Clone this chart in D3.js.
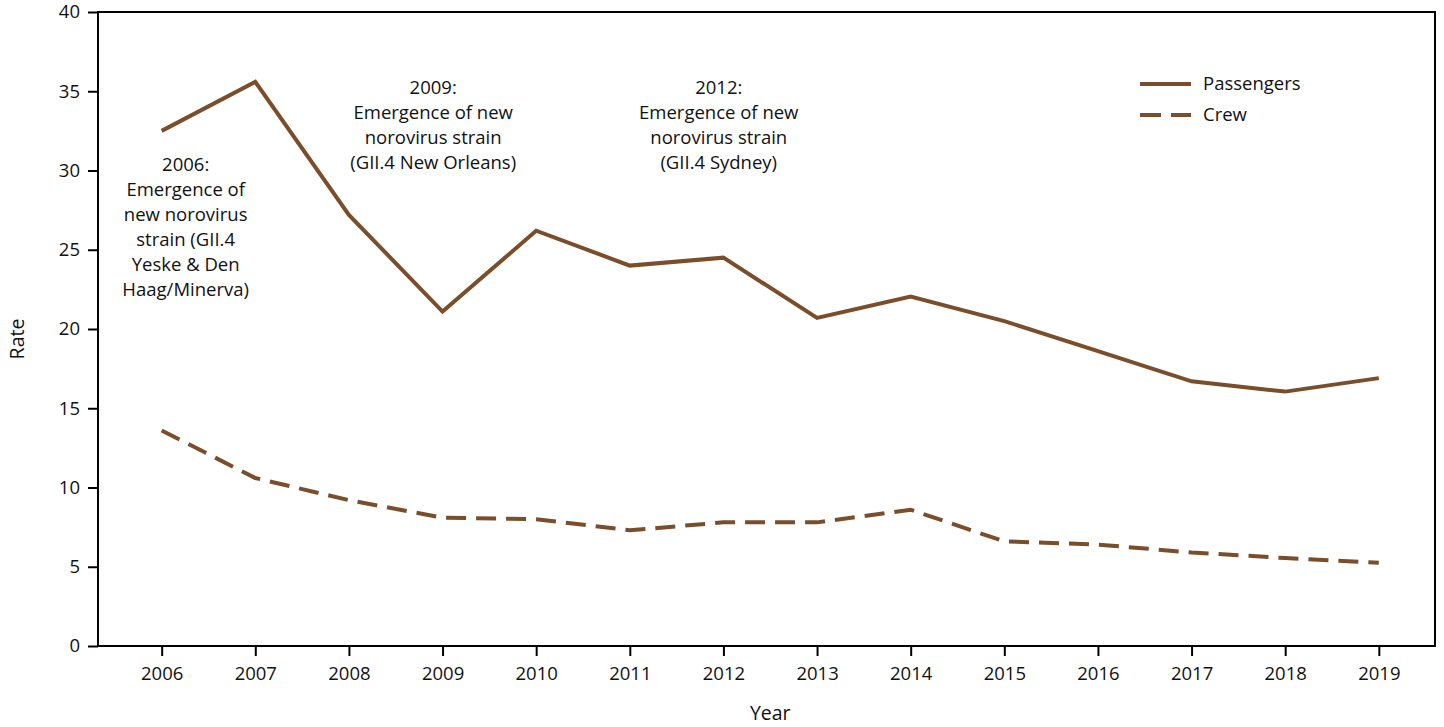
<!DOCTYPE html>
<html>
<head>
<meta charset="utf-8">
<script src="https://cdn.jsdelivr.net/npm/d3@7"></script>
<style>
  body { margin: 0; background: #fff; }
  text { font-family: "Open Sans", sans-serif; fill: #111; }
</style>
</head>
<body>
<svg id="chart"></svg>
<script>

var years = [2006, 2007, 2008, 2009, 2010, 2011, 2012, 2013, 2014, 2015, 2016, 2017, 2018, 2019];
var passengers = [32.5, 35.6, 27.2, 21.1, 26.2, 24.0, 24.5, 20.7, 22.05, 20.5, 18.6, 16.7, 16.05, 16.9];
var crew = [13.6, 10.6, 9.2, 8.1, 8.0, 7.3, 7.8, 7.8, 8.6, 6.6, 6.4, 5.9, 5.55, 5.25];
var yTicks = [0, 5, 10, 15, 20, 25, 30, 35, 40];

var notes = [
    { year: 2006, y: 30.0, lines: ["2006:", "Emergence of", "new norovirus", "strain (GII.4", "Yeske & Den", "Haag/Minerva)"] },
    { year: 2008.9, y: 34.8, lines: ["2009:", "Emergence of new", "norovirus strain", "(GII.4 New Orleans)"] },
    { year: 2011.95, y: 34.8, lines: ["2012:", "Emergence of new", "norovirus strain", "(GII.4 Sydney)"] }
];

var color = "#7a4e2b";
var svgWidth = 1444;
var svgHeight = 727;
var margin = { top: 12, right: 9, bottom: 81, left: 98 };
var w = svgWidth - margin.left - margin.right;
var h = svgHeight - margin.top - margin.bottom;

var svg = d3.select("#chart")
    .attr("width", svgWidth)
    .attr("height", svgHeight);

var g = svg.append("g")
    .attr("transform", "translate(" + margin.left + "," + margin.top + ")");

var xScale = d3.scaleLinear()
    .domain([2005.32, 2019.6])
    .range([0, w]);

var yScale = d3.scaleLinear()
    .domain([0, 40])
    .range([h, 0]);

// box
g.append("rect")
    .attr("width", w)
    .attr("height", h)
    .attr("fill", "none")
    .attr("stroke", "#000")
    .attr("stroke-width", 2);

var xAxis = g.append("g")
    .attr("transform", "translate(0," + h + ")")
    .call(d3.axisBottom(xScale).tickValues(years).tickFormat(d3.format("d")).tickSize(10).tickPadding(11));

var yAxis = g.append("g")
    .call(d3.axisLeft(yScale).tickValues(yTicks).tickSize(10).tickPadding(8));

[xAxis, yAxis].forEach(function(a) {
    a.select(".domain").remove();
    a.selectAll("line").attr("stroke", "#000").attr("stroke-width", 2);
    a.selectAll("text").style("font-size", "18.5px").attr("fill", "#111");
});

var line = d3.line()
    .x(function(d, i) { return xScale(years[i]); })
    .y(function(d) { return yScale(d); });

g.append("path")
    .datum(passengers)
    .attr("d", line)
    .attr("fill", "none")
    .attr("stroke", color)
    .attr("stroke-width", 4);

g.append("path")
    .datum(crew)
    .attr("d", line)
    .attr("fill", "none")
    .attr("stroke", color)
    .attr("stroke-width", 4)
    .attr("stroke-dasharray", "20,10");

// annotations
notes.forEach(function(n) {
    var t = g.append("text")
        .attr("text-anchor", "middle")
        .style("font-size", "18.5px");
    n.lines.forEach(function(s, i) {
        t.append("tspan")
            .attr("x", xScale(n.year) + (n.year === 2006 ? 24 : 0))
            .attr("y", yScale(n.y) + i * 25)
            .text(s);
    });
});

// legend
var legend = g.append("g").attr("transform", "translate(" + (1140 - margin.left) + "," + (84 - margin.top) + ")");
["Passengers", "Crew"].forEach(function(name, i) {
    legend.append("line")
        .attr("x1", 0).attr("x2", 51)
        .attr("y1", i * 31).attr("y2", i * 31)
        .attr("stroke", color)
        .attr("stroke-width", 4)
        .attr("stroke-dasharray", i === 1 ? "21,10" : null);
    legend.append("text")
        .attr("x", 63)
        .attr("y", i * 31 + 6)
        .style("font-size", "18.5px")
        .text(name);
});

// axis titles
svg.append("text")
    .attr("x", margin.left + xScale(2012.5))
    .attr("y", 720)
    .attr("text-anchor", "middle")
    .style("font-size", "19.5px")
    .text("Year");

svg.append("text")
    .attr("transform", "translate(24," + (margin.top + h / 2 + 10) + ") rotate(-90)")
    .attr("text-anchor", "middle")
    .style("font-size", "19.5px")
    .text("Rate");

</script>
</body>
</html>
